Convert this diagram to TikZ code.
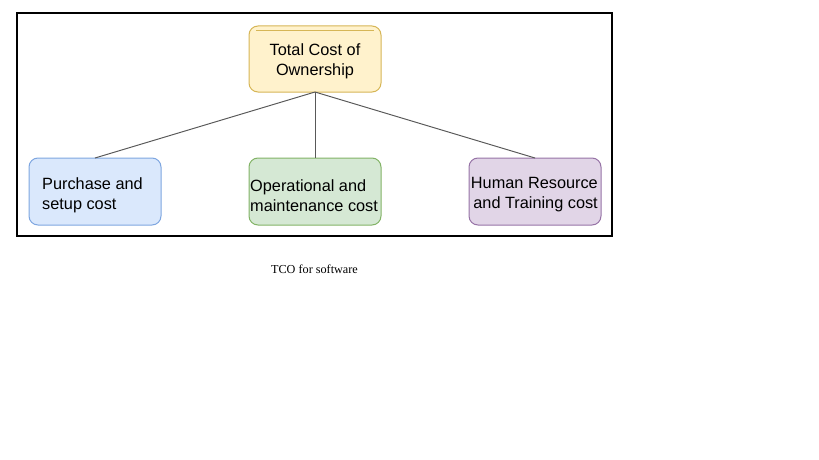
\documentclass[tikz,border=0pt]{standalone}
\usepackage{fontspec}
\setmainfont{Liberation Sans}
\newfontfamily\capfont{Liberation Serif}
\definecolor{yfill}{HTML}{FFF2CC}\definecolor{ydraw}{HTML}{D6B656}
\definecolor{bfill}{HTML}{DAE8FC}\definecolor{bdraw}{HTML}{7EA6E0}
\definecolor{gfill}{HTML}{D5E8D4}\definecolor{gdraw}{HTML}{82B366}
\definecolor{pfill}{HTML}{E1D5E7}\definecolor{pdraw}{HTML}{9673A6}
\begin{document}
\begin{tikzpicture}[x=1pt,y=-1pt,
  box/.style={rounded corners=9pt, line width=1pt},
  lbl/.style={font=\fontsize{16.3}{20}\selectfont, inner sep=0pt, align=left},
  conn/.style={draw=black!65, line width=1pt}]
\useasboundingbox (0,0) rectangle (819,460);
\draw[line width=2pt] (17,13) rectangle (612,236);
% top node
\draw[box, fill=yfill, draw=ydraw] (249,26) rectangle (381,92);
\draw[draw=ydraw, line width=0.6pt] (256,30) -- (374,30);
\node[lbl, align=center] (top) at (315,61) {Total Cost of\\Ownership};
\coordinate (tb) at (315,92);
% bottom nodes
\draw[box, fill=bfill, draw=bdraw] (29,158) rectangle (161,225);
\coordinate (lt) at (95,158);
\node[lbl, anchor=west] (l) at (42,195) {Purchase and\\setup cost};
\draw[box, fill=gfill, draw=gdraw] (249,158) rectangle (381,225);
\coordinate (mt) at (315,158);
\node[lbl, anchor=west] (m) at (250,196) {Operational and\\maintenance cost};
\draw[box, fill=pfill, draw=pdraw] (469,158) rectangle (601,225);
\coordinate (rt) at (535,158);
\node[lbl, align=right, anchor=east] (r) at (598,195) {Human Resource\\and Training cost};
% connectors
\draw[conn] (tb) -- (lt);
\draw[conn] (tb) -- (mt);
\draw[conn] (tb) -- (rt);
% caption
\node[font=\capfont\fontsize{12.2}{14}\selectfont, inner sep=0pt, anchor=base] (cap) at (314.5,273) {TCO for software};
\end{tikzpicture}
\end{document}
